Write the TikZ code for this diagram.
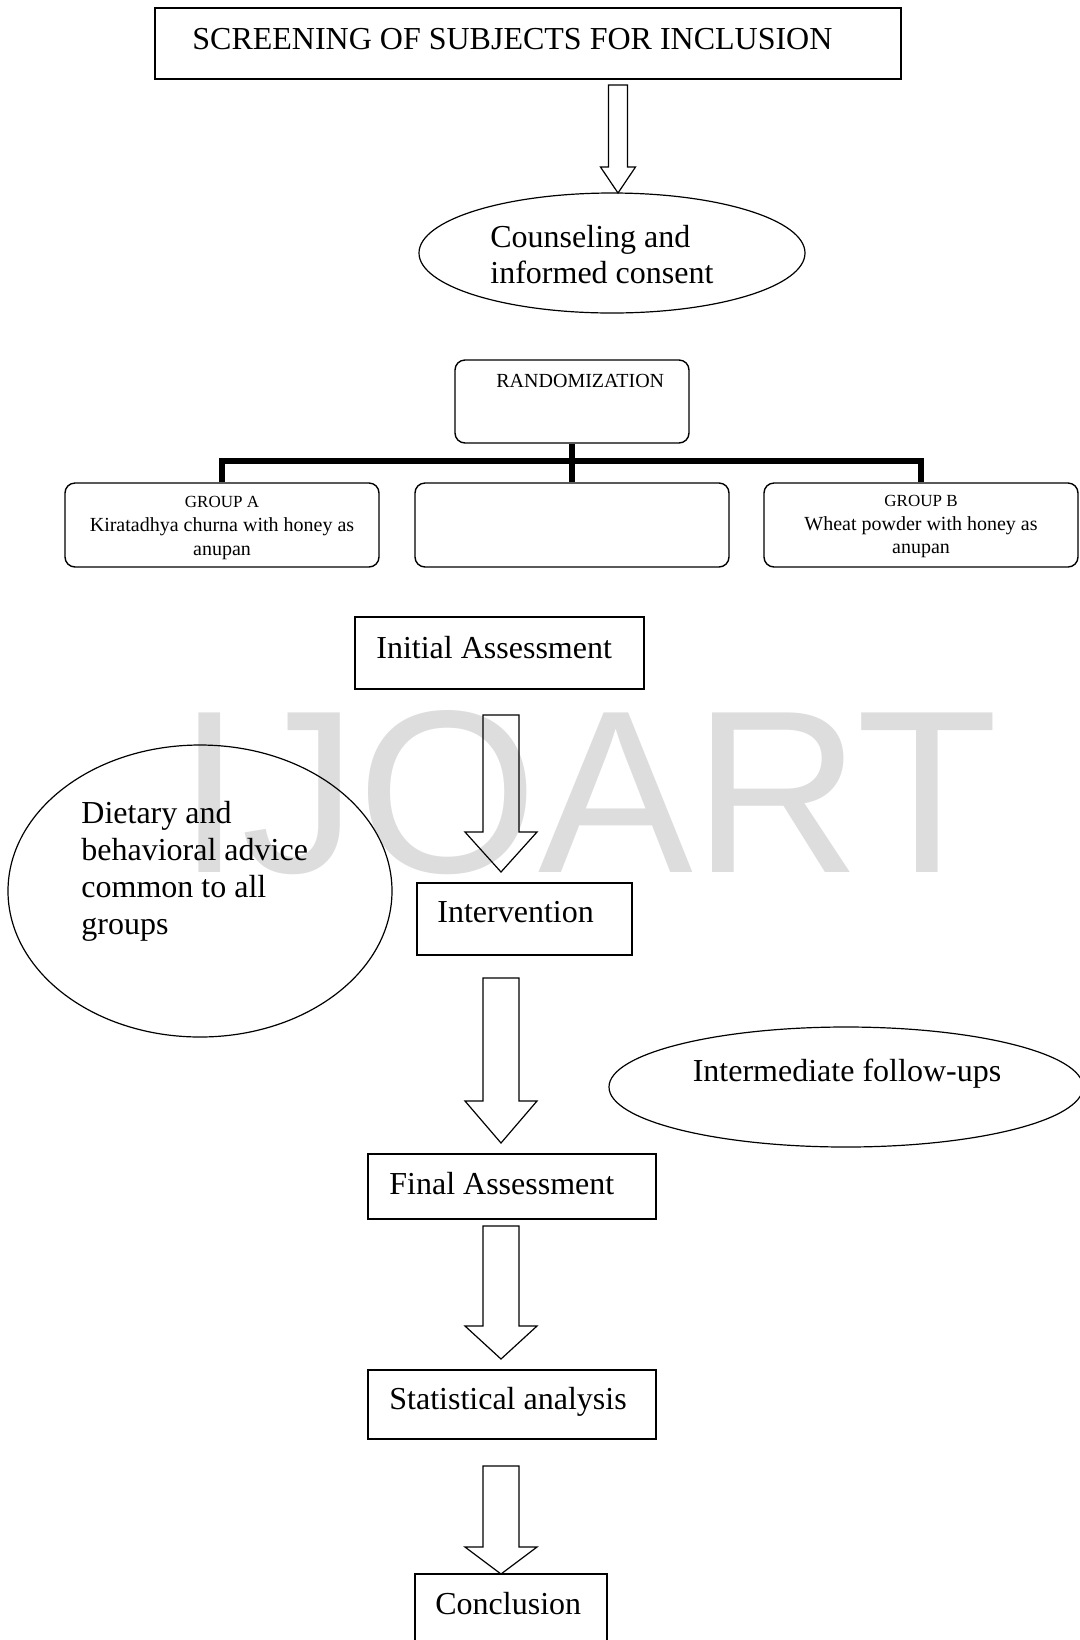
\documentclass[tikz,border=0pt]{standalone}
\usepackage{fontspec}
\setmainfont{Liberation Serif}
\newfontfamily\wmfont{Liberation Sans}
\usetikzlibrary{shapes.geometric,fit}
\definecolor{wmgray}{RGB}{221,221,221}
\tikzset{
  box/.style={draw, line width=0.75pt, inner sep=0pt},
  rbox/.style={draw, line width=0.7pt, inner sep=0pt, rounded corners=5pt},
  ell/.style={draw, ellipse, line width=0.6pt, inner sep=0pt},
  txt/.style={inner sep=0pt, font=\fontsize{16}{18}\selectfont},
  smalltxt/.style={inner sep=0pt, font=\fontsize{10}{12}\selectfont},
  tinytxt/.style={inner sep=0pt, font=\fontsize{8.5}{10}\selectfont},
  arrline/.style={draw, line width=0.6pt, line join=miter},
  treebar/.style={draw, line width=3pt},
  wm/.style={inner sep=0pt, text=wmgray, font=\wmfont\fontsize{116}{120}\selectfont}
}
\newcommand\blkarrow[6]{%
  \draw[arrline] ({#1-#5},#2) -- ({#1+#5},#2) -- ({#1+#5},#3) -- ({#1+#6},#3)
    -- (#1,#4) -- ({#1-#6},#3) -- ({#1-#5},#3) -- cycle;}
\begin{document}
\begin{tikzpicture}[x=0.5pt,y=-0.5pt]
\useasboundingbox (0,0) rectangle (1080,1640);
\clip (0,0) rectangle (1080,1640);
\fill[white] (0,0) rectangle (1080,1640);

% watermark
\node[wm, anchor=base west] (wmark) at (177,872) {IJOART};

% screening
\node[box, fit={(155,8) (901,79)}] (scr) {};
\node[txt, anchor=base west] (scrT) at (192,49) {SCREENING OF SUBJECTS FOR INCLUSION};
\blkarrow{618}{85}{167}{193}{9.5}{17.5}

% counseling
\node[ell, minimum width=193pt, minimum height=60pt] (couns) at (612,253) {};
\node[txt, anchor=base west] (counsT1) at (490,247) {Counseling and};
\node[txt, anchor=base west] (counsT2) at (490,283) {informed consent};

% randomization tree
\node[rbox, fit={(455,360) (689,443)}] (rand) {};
\node[smalltxt, anchor=base west] (randT) at (496,387) {RANDOMIZATION};
\node[rbox, fit={(65,483) (379,567)}] (grpA) {};
\node[rbox, fit={(415,483) (729,567)}] (grpM) {};
\node[rbox, fit={(764,483) (1078,567)}] (grpB) {};
\draw[treebar] (rand.south) -- (grpM.north);
\draw[treebar, line join=miter] (grpA.north) -- ++(0,-21) -| (grpB.north);

\node[tinytxt, anchor=base] (grpAT1) at (222,507) {GROUP A};
\node[smalltxt, anchor=base] (grpAT2) at (222,531) {Kiratadhya churna with honey as};
\node[smalltxt, anchor=base] (grpAT3) at (222,555) {anupan};
\node[tinytxt, anchor=base] (grpBT1) at (921,506) {GROUP B};
\node[smalltxt, anchor=base] (grpBT2) at (921,530) {Wheat powder with honey as};
\node[smalltxt, anchor=base] (grpBT3) at (921,553) {anupan};

% initial assessment
\node[box, fit={(355,617) (644,689)}] (init) {};
\node[txt, anchor=base west] (initT) at (376,658) {Initial Assessment};
\blkarrow{501}{715}{832}{872}{18}{36}

% dietary advice
\node[ell, minimum width=192pt, minimum height=146pt] (diet) at (200,891) {};
\node[txt, anchor=base west] (dietT1) at (81,823) {Dietary and};
\node[txt, anchor=base west] (dietT2) at (81,860) {behavioral advice};
\node[txt, anchor=base west] (dietT3) at (81,897) {common to all};
\node[txt, anchor=base west] (dietT4) at (81,934) {groups};

% intervention
\node[box, fit={(417,883) (632,955)}] (interv) {};
\node[txt, anchor=base west] (intervT) at (437,922) {Intervention};
\blkarrow{501}{978}{1101}{1143}{18}{36}

% intermediate follow-ups
\node[ell, minimum width=237pt, minimum height=60pt] (follow) at (846,1087) {};
\node[txt, anchor=base] (followT) at (847,1081) {Intermediate follow-ups};

% final assessment
\node[box, fit={(368,1154) (656,1219)}] (final) {};
\node[txt, anchor=base west] (finalT) at (389,1194) {Final Assessment};
\blkarrow{501}{1226}{1326}{1359}{18}{36}

% statistical analysis
\node[box, fit={(368,1370) (656,1439)}] (stat) {};
\node[txt, anchor=base west] (statT) at (389,1409) {Statistical analysis};
\blkarrow{501}{1466}{1547}{1574}{18}{36}

% conclusion
\node[box, fit={(415,1574) (607,1670)}] (concl) {};
\node[txt, anchor=base west] (conclT) at (435,1614) {Conclusion};
\end{tikzpicture}
\end{document}
